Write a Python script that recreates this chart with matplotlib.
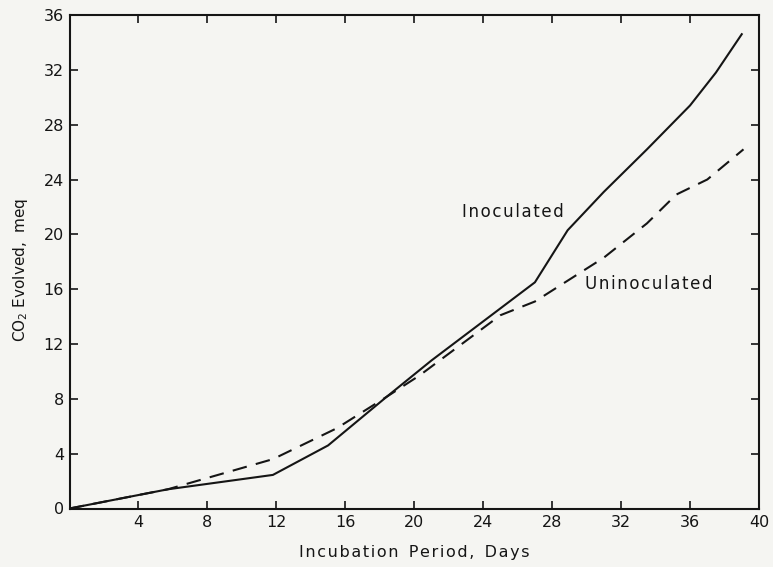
import matplotlib
matplotlib.use("Agg")
import matplotlib.pyplot as plt

# Cumulative CO2 evolution during incubation
inoc_days = [0, 5.7, 11.8, 15.0, 18.4, 21.0, 27.0, 28.9, 31.0, 33.5, 36.0, 37.5, 39.0]
inoc_co2 = [0, 1.4, 2.45, 4.6, 8.15, 10.8, 16.5, 20.3, 23.1, 26.2, 29.4, 31.8, 34.6]

uninoc_days = [0, 5.7, 11.8, 15.5, 18.4, 20.3, 25.0, 27.0, 31.0, 33.5, 35.2, 37.0, 39.1]
uninoc_co2 = [0, 1.4, 3.6, 5.85, 8.15, 9.7, 14.1, 15.1, 18.3, 20.8, 22.9, 24.0, 26.2]

x_ticks = [4, 8, 12, 16, 20, 24, 28, 32, 36, 40]
y_ticks = [0, 4, 8, 12, 16, 20, 24, 28, 32, 36]

plt.rcParams['font.family'] = ['DejaVu Sans']
bg = '#f5f5f2'
ink = '#151515'
HAIR = '\u200a'


def spaced(s):
    """Open up letter spacing for the stencil-style lettering."""
    return HAIR.join(s)


fig = plt.figure(figsize=(7.73, 5.67), dpi=100, facecolor=bg)
ax = fig.add_axes([69.5 / 773, 1 - 508.5 / 567, (759 - 69.5) / 773, (508.5 - 15) / 567])
ax.set_facecolor(bg)

ax.plot(inoc_days, inoc_co2, color=ink, lw=1.5, solid_joinstyle='miter')
ax.plot(uninoc_days, uninoc_co2, color=ink, lw=1.5, dashes=(7, 4.5))

ax.set_xlim(0, 40)
ax.set_ylim(0, 36)
ax.set_xticks(x_ticks)
ax.set_yticks(y_ticks)
ax.set_xticklabels([str(t) for t in x_ticks])
ax.set_yticklabels([str(t) for t in y_ticks])

for s in ax.spines.values():
    s.set_linewidth(1.5)
    s.set_color(ink)

ax.tick_params(direction='in', length=6, width=1.2, color=ink,
               top=True, right=True, labelsize=11.5, labelcolor=ink)
ax.tick_params(axis='x', pad=5)
ax.tick_params(axis='y', pad=4)

# Hide ticks at the axis ends where the spines meet
for t in ax.xaxis.get_major_ticks()[-1:]:
    t.tick1line.set_visible(False)
    t.tick2line.set_visible(False)
for t in ax.yaxis.get_major_ticks():
    if t.get_loc() in (0, 36):
        t.tick1line.set_visible(False)
        t.tick2line.set_visible(False)

ax.set_xlabel(spaced('Incubation') + '  ' + spaced('Period,') + '  ' + spaced('Days'),
              fontsize=11.5, color=ink)
ax.xaxis.set_label_coords(0.5, -0.090)
ax.xaxis.label.set_va('center')

ax.set_ylabel('CO$_2$ Evolved,  meq', fontsize=11, color=ink)
ax.yaxis.set_label_coords(-0.058, 0.483)

ax.text(22.75, 21.6, spaced('Inoculated'), fontsize=12, color=ink, ha='left', va='center')
ax.text(29.9, 16.4, spaced('Uninoculated'), fontsize=12, color=ink, ha='left', va='center')

fig.savefig('out.png', dpi=100, facecolor=bg)
